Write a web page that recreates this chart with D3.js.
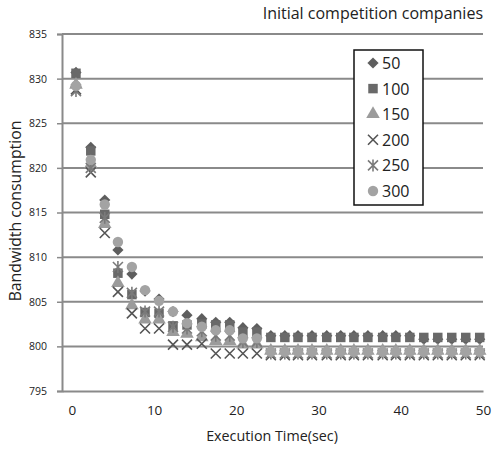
<!DOCTYPE html>
<html>
<head>
<meta charset="utf-8">
<script src="https://cdn.jsdelivr.net/npm/d3@7"></script>
<style>
  body { margin: 0; background: #fff; }
  text { font-family: "Open Sans", sans-serif; fill: #222; }
</style>
</head>
<body>
<div id="chart"></div>
<script>
"use strict";

// execution times (sec)
var times = [0.5, 2.3, 4.0, 5.6, 7.3, 8.9, 10.6, 12.3, 14.0, 15.8, 17.5, 19.2, 20.8, 22.5, 24.2,
             25.9, 27.5, 29.2, 31.0, 32.7, 34.3, 36.0, 37.8, 39.4, 41.1, 42.8, 44.5, 46.2, 47.9, 49.6];

var s50  = [830.7, 822.3, 816.4, 810.8, 808.1, 806.2, 805.3, 803.9, 803.5, 803.1, 802.7, 802.7, 802.1, 802.0, 801.2,
            801.2, 801.2, 801.2, 801.2, 801.2, 801.2, 801.2, 801.2, 801.2, 801.2, 800.8, 800.8, 800.8, 800.8, 800.8];
var s100 = [830.6, 821.9, 814.8, 808.2, 805.8, 803.8, 803.7, 802.3, 802.4, 802.5, 802.4, 802.4, 801.6, 801.6, 801.0,
            801.0, 801.0, 801.0, 801.0, 801.0, 801.0, 801.0, 801.0, 801.0, 801.0, 801.0, 801.0, 801.0, 801.0, 801.0];
var s150 = [829.3, 820.4, 813.7, 807.1, 804.6, 803.0, 803.0, 801.6, 801.4, 801.0, 800.6, 800.6, 800.2, 800.2, 799.5,
            799.5, 799.5, 799.5, 799.5, 799.5, 799.5, 799.5, 799.5, 799.5, 799.5, 799.5, 799.5, 799.5, 799.5, 799.5];
var s200 = [828.8, 819.5, 812.7, 806.1, 803.7, 802.0, 802.0, 800.2, 800.2, 800.3, 799.2, 799.2, 799.2, 799.2, 799.0,
            799.0, 799.0, 799.0, 799.0, 799.0, 799.0, 799.0, 799.0, 799.0, 799.0, 799.0, 799.0, 799.0, 799.0, 799.0];
var s250 = [828.6, 820.0, 814.4, 808.9, 806.0, 803.9, 803.9, 802.2, 802.0, 801.7, 801.2, 801.2, 800.5, 800.5, 799.2,
            799.2, 799.2, 799.2, 799.2, 799.2, 799.2, 799.2, 799.2, 799.2, 799.2, 799.2, 799.2, 799.2, 799.2, 799.2];
var s300 = [829.2, 820.9, 815.9, 811.7, 808.9, 806.3, 805.1, 803.9, 802.6, 802.2, 801.8, 801.8, 800.9, 800.9, 799.4,
            799.4, 799.4, 799.4, 799.4, 799.4, 799.4, 799.4, 799.4, 799.4, 799.4, 799.4, 799.4, 799.4, 799.4, 799.4];

var seriesNames = ["50", "100", "150", "200", "250", "300"];
var yTicks = [795, 800, 805, 810, 815, 820, 825, 830, 835];
var xTicks = [0, 10, 20, 30, 40, 50];

var series = [
  { name: seriesNames[0], values: s50,  marker: "diamond",  color: "#5e5e5e" },
  { name: seriesNames[1], values: s100, marker: "square",   color: "#696969" },
  { name: seriesNames[2], values: s150, marker: "triangle", color: "#9b9b9b" },
  { name: seriesNames[3], values: s200, marker: "x",        color: "#555555" },
  { name: seriesNames[4], values: s250, marker: "star",     color: "#7a7a7a" },
  { name: seriesNames[5], values: s300, marker: "circle",   color: "#a3a3a3" }
];

var width = 492, height = 453;
var plot = { left: 62, right: 483, top: 34, bottom: 391 };

var x = d3.scaleLinear().domain([-1.2, 50]).range([plot.left, plot.right]);
var y = d3.scaleLinear().domain([795, 835]).range([plot.bottom, plot.top]);

var svg = d3.select("#chart").append("svg")
    .attr("width", width)
    .attr("height", height);

// gridlines
svg.append("g")
  .selectAll("line")
    .data(yTicks.slice(1))
  .enter().append("line")
    .attr("x1", plot.left).attr("x2", plot.right)
    .attr("y1", function(d) { return y(d); })
    .attr("y2", function(d) { return y(d); })
    .style("stroke", "#8a8a8a")
    .style("stroke-width", 2);

// y axis
var yAxis = svg.append("g")
    .attr("transform", "translate(" + plot.left + ",0)")
    .call(d3.axisLeft(y).tickValues(yTicks).tickSize(5).tickPadding(10));
yAxis.select(".domain").style("stroke", "#8a8a8a").style("stroke-width", 2);
yAxis.selectAll(".tick line").style("stroke", "#8a8a8a").style("stroke-width", 1.5);
yAxis.selectAll("text").style("font-size", "10.5px").style("font-family", "Open Sans, sans-serif").attr("fill", "#222");

// x axis
var xAxis = svg.append("g")
    .attr("transform", "translate(0," + plot.bottom + ")")
    .call(d3.axisBottom(x).tickValues(xTicks).tickSize(0).tickPadding(14));
xAxis.select(".domain").style("stroke", "#8a8a8a").style("stroke-width", 2);
xAxis.selectAll("text").style("font-size", "13.5px").style("font-family", "Open Sans, sans-serif").attr("fill", "#222");

// markers
function markerPath(type) {
  var r = 5;
  switch (type) {
    case "diamond":  return d3.symbol().type(d3.symbolDiamond2).size(80)();
    case "square":   return d3.symbol().type(d3.symbolSquare).size(90)();
    case "triangle": return d3.symbol().type(d3.symbolTriangle).size(80)();
    case "circle":   return d3.symbol().type(d3.symbolCircle).size(85)();
    case "x":        return "M" + (-r) + "," + (-r) + "L" + r + "," + r + "M" + (-r) + "," + r + "L" + r + "," + (-r);
    case "star":     return "M" + (-r) + "," + (-r) + "L" + r + "," + r + "M" + (-r) + "," + r + "L" + r + "," + (-r) +
                            "M0," + (-r - 1) + "L0," + (r + 1);
  }
}

function styleMarker(sel, s) {
  if (s.marker === "x" || s.marker === "star") {
    sel.style("fill", "none").style("stroke", s.color).style("stroke-width", 1.6);
  } else {
    sel.style("fill", s.color).style("stroke", "none");
  }
}

series.forEach(function(s) {
  var g = svg.append("g");
  var pts = g.selectAll("path")
      .data(s.values)
    .enter().append("path")
      .attr("d", markerPath(s.marker))
      .attr("transform", function(d, i) { return "translate(" + x(times[i]) + "," + y(d) + ")"; });
  styleMarker(pts, s);
});

// legend
var legend = svg.append("g").attr("transform", "translate(354,50)");
legend.append("rect")
    .attr("width", 69).attr("height", 155)
    .style("fill", "#fff")
    .style("stroke", "#111")
    .style("stroke-width", 1.5);
series.forEach(function(s, i) {
  var row = legend.append("g").attr("transform", "translate(19," + (13 + i * 25.6) + ")");
  var m = row.append("path").attr("d", markerPath(s.marker));
  styleMarker(m, s);
  row.append("text")
      .attr("x", 9).attr("y", 6)
      .style("font-size", "16px")
      .text(s.name);
});

// titles
svg.append("text")
    .attr("x", 483).attr("y", 19)
    .attr("text-anchor", "end")
    .style("font-size", "16px")
    .text("Initial competition companies");

svg.append("text")
    .attr("x", 272).attr("y", 441)
    .attr("text-anchor", "middle")
    .style("font-size", "14.3px")
    .text("Execution Time(sec)");

svg.append("text")
    .attr("transform", "translate(21,211) rotate(-90)")
    .attr("text-anchor", "middle")
    .style("font-size", "15.8px")
    .text("Bandwidth consumption");
</script>
</body>
</html>
